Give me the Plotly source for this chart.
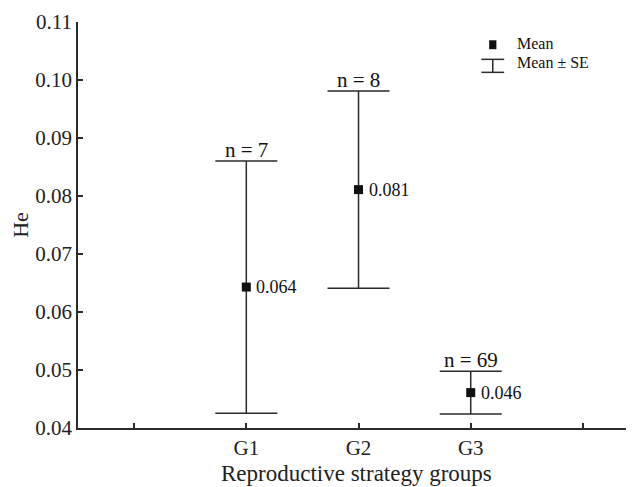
import plotly.graph_objects as go

# Data
groups = ["G1", "G2", "G3"]
group_pos = [1, 2, 3]
means = [0.0643, 0.0811, 0.0461]
se = [0.02175, 0.0170, 0.0037]
mean_labels = ["0.064", "0.081", "0.046"]
n_labels = ["n = 7", "n = 8", "n = 69"]
x_tickvals = [0, 1, 2, 3, 4]
x_ticktext = ["", "G1", "G2", "G3", ""]
y_tickvals = [0.04, 0.05, 0.06, 0.07, 0.08, 0.09, 0.10, 0.11]
y_ticktext = ["0.04", "0.05", "0.06", "0.07", "0.08", "0.09", "0.10", "0.11"]

FONT = "Liberation Serif, Times New Roman, serif"
INK = "#2b2b2b"

fig = go.Figure()
fig.add_trace(go.Scatter(
    x=group_pos, y=means, mode="markers",
    marker=dict(symbol="square", size=9, color="#111111"),
    error_y=dict(type="data", array=se, visible=True, color=INK,
                 thickness=1.5, width=31),
    showlegend=False, hoverinfo="skip",
))

annotations = []
for xp, m, s, ml, nl in zip(group_pos, means, se, mean_labels, n_labels):
    annotations.append(dict(x=xp, y=m, text=ml, showarrow=False, xanchor="left",
                            yanchor="middle", xshift=8,
                            font=dict(family=FONT, size=18, color="#111")))
    annotations.append(dict(x=xp, y=m + s, text=nl, showarrow=False, xanchor="center",
                            yanchor="bottom", yshift=-3,
                            font=dict(family=FONT, size=21, color="#111")))

# x-axis title placed as an annotation
annotations.append(dict(xref="paper", yref="paper", x=0.5, y=0, yshift=-45,
                        text="Reproductive strategy groups", showarrow=False,
                        xanchor="center", yanchor="middle",
                        font=dict(family=FONT, size=23, color="#222")))

# Legend (drawn manually, paper coordinates)
annotations.append(dict(xref="paper", yref="paper", x=0.786, y=0.946, text="Mean",
                        showarrow=False, xanchor="left", yanchor="middle",
                        font=dict(family=FONT, size=16, color="#111")))
annotations.append(dict(xref="paper", yref="paper", x=0.786, y=0.901, text="Mean ± SE",
                        showarrow=False, xanchor="left", yanchor="middle",
                        font=dict(family=FONT, size=16, color="#111")))

shapes = [
    dict(type="rect", xref="paper", yref="paper", x0=0.7395, x1=0.7525, y0=0.933, y1=0.955,
         fillcolor="#111", line=dict(width=0)),
    dict(type="line", xref="paper", yref="paper", x0=0.746, x1=0.746, y0=0.876, y1=0.908,
         line=dict(color=INK, width=1.5)),
    dict(type="line", xref="paper", yref="paper", x0=0.7255, x1=0.7665, y0=0.908, y1=0.908,
         line=dict(color=INK, width=1.5)),
    dict(type="line", xref="paper", yref="paper", x0=0.7255, x1=0.7665, y0=0.876, y1=0.876,
         line=dict(color=INK, width=1.5)),
]

# the page puts the figure 8px from the top-left corner, so size it to fill the rest
fig.update_layout(
    width=626, height=479,
    margin=dict(l=70, r=0, t=14, b=59),
    paper_bgcolor="white", plot_bgcolor="white",
    font=dict(family=FONT, size=20, color="#222"),
    annotations=annotations, shapes=shapes,
    xaxis=dict(range=[-0.5, 4.455], tickvals=x_tickvals, ticktext=x_ticktext,
               automargin=False,
               showgrid=False, zeroline=False, showline=True, linecolor=INK, linewidth=1.5,
               ticks="inside", ticklen=5, tickwidth=1.5, tickcolor=INK,
               tickfont=dict(family=FONT, size=21, color="#222")),
    yaxis=dict(range=[0.04, 0.11], tickvals=y_tickvals, ticktext=y_ticktext,
               automargin=False,
               showgrid=False, zeroline=False, showline=True, linecolor=INK, linewidth=1.5,
               ticks="inside", ticklen=5, tickwidth=1.5, tickcolor=INK,
               tickfont=dict(family=FONT, size=21, color="#222"),
               title=dict(text="He", standoff=5,
                          font=dict(family=FONT, size=22, color="#222"))),
)

fig.write_html("out.html")
